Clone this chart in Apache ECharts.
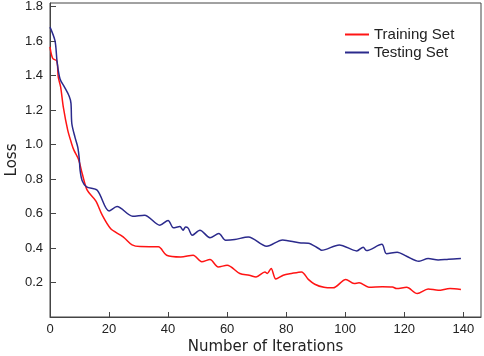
<!DOCTYPE html>
<html>
<head>
<meta charset="utf-8">
<script src="https://cdn.jsdelivr.net/npm/echarts@6/dist/echarts.min.js"></script>
<style>
  html, body { margin: 0; padding: 0; background: #fff; }
  #chart { width: 484px; height: 356px; }
</style>
</head>
<body>
<div id="chart"></div>
<script>
// training set loss
var trainIter = [0, 0.9, 2.3, 2.8, 3.6, 4.5, 6, 7.3, 8.1, 9.7, 10.9, 12.6, 15.5, 17.7, 20.5, 23.9, 25.4, 27.8, 30.5, 36.7,
  39.5, 44.3, 48.5, 51.4, 54.2, 57, 60, 64.3, 67.5, 69.8, 72.8, 73.6, 74.9, 76.5, 79, 81.8, 85.2, 87.5, 89.7, 92.8,
  95.9, 100.2, 103, 104.7, 108, 112.6, 116, 117.4, 120.8, 124.4, 128.1, 131.5, 135.5, 139.2];
var trainLoss = [1.566, 1.50, 1.483, 1.39, 1.334, 1.218, 1.083, 1.006, 0.967, 0.912, 0.832, 0.735, 0.673, 0.59, 0.513, 0.474, 0.455, 0.418, 0.408, 0.407,
  0.358, 0.348, 0.358, 0.32, 0.333, 0.29, 0.30, 0.252, 0.242, 0.232, 0.261, 0.252, 0.281, 0.22, 0.242, 0.252, 0.261, 0.218, 0.19, 0.172,
  0.169, 0.217, 0.194, 0.198, 0.173, 0.176, 0.174, 0.165, 0.172, 0.136, 0.163, 0.155, 0.165, 0.16];

// testing set loss
var testIter = [0, 1.7, 2.4, 3.4, 5, 6.5, 7.1, 7.4, 8.5, 9.4, 9.9, 10.2, 10.9, 12.4, 16, 20, 22.7, 28, 32, 37.2,
  40, 41.8, 44, 45.1, 45.9, 46.8, 48.2, 50.8, 54.2, 57.2, 59.5, 62.6, 67.2, 73.4, 78.8, 84.4, 87.5, 91, 92, 98,
  103.9, 106.1, 107.2, 112.4, 114, 117.6, 120.8, 125, 128.1, 131.5, 135, 139.2];
var testLoss = [1.68, 1.60, 1.48, 1.38, 1.33, 1.28, 1.24, 1.12, 1.04, 0.985, 0.92, 0.85, 0.79, 0.754, 0.735, 0.615, 0.64, 0.584, 0.59, 0.532,
  0.56, 0.517, 0.524, 0.503, 0.522, 0.515, 0.474, 0.503, 0.46, 0.484, 0.445, 0.449, 0.464, 0.41, 0.447, 0.43, 0.428, 0.397, 0.387, 0.418,
  0.383, 0.405, 0.385, 0.421, 0.367, 0.376, 0.352, 0.323, 0.339, 0.33, 0.335, 0.339];

var xTicks = [0, 20, 40, 60, 80, 100, 120, 140];
var yTicks = [0.2, 0.4, 0.6, 0.8, 1.0, 1.2, 1.4, 1.6, 1.8];
var seriesNames = ["Training Set", "Testing Set"];

function pairs(xs, ys) {
  return xs.map(function (x, i) { return [x, ys[i]]; });
}

var myChart = echarts.init(document.getElementById("chart"));
var option = {
  animation: false,
  textStyle: { fontFamily: "Liberation Sans, Arial, sans-serif" },
  grid: {
    left: 50, right: 3, top: 3, bottom: 39,
    outerBoundsMode: "none",
    show: true,
    borderColor: "#444",
    borderWidth: 1
  },
  legend: {
    orient: "vertical",
    left: 340,
    top: 22,
    icon: "rect",
    itemWidth: 24,
    itemHeight: 2,
    itemGap: 3,
    itemTextGap: 10,
    textStyle: { fontSize: 15, color: "#222" },
    data: seriesNames
  },
  xAxis: {
    type: "value",
    min: 0,
    max: 146,
    name: "Number of Iterations",
    nameLocation: "middle",
    nameGap: 23,
    nameMoveOverlap: false,
    nameTextStyle: { fontSize: 15, color: "#222", fontFamily: "DejaVu Sans" },
    splitLine: { show: false },
    axisLine: { lineStyle: { color: "#444" } },
    axisTick: { inside: true, length: 5, customValues: xTicks, lineStyle: { color: "#444" } },
    axisLabel: { customValues: xTicks, fontSize: 13, color: "#222", margin: 6 }
  },
  yAxis: {
    type: "value",
    min: 0,
    max: 1.82,
    name: "Loss",
    nameLocation: "middle",
    nameGap: 30,
    nameMoveOverlap: false,
    nameTextStyle: { fontSize: 15, color: "#222", fontFamily: "DejaVu Sans" },
    splitLine: { show: false },
    axisLine: { show: true, lineStyle: { color: "#444" } },
    axisTick: { show: true, inside: true, length: 6, customValues: yTicks, lineStyle: { color: "#444" } },
    axisLabel: {
      customValues: yTicks, fontSize: 13, color: "#222", margin: 7,
      formatter: function (v) { return v.toFixed(1); }
    }
  },
  series: [
    {
      name: seriesNames[0],
      type: "line",
      data: pairs(trainIter, trainLoss),
      smooth: 0.3,
      showSymbol: false,
      lineStyle: { color: "#ff1414", width: 1.5 },
      itemStyle: { color: "#ff1414" }
    },
    {
      name: seriesNames[1],
      type: "line",
      data: pairs(testIter, testLoss),
      smooth: 0.3,
      showSymbol: false,
      lineStyle: { color: "#2b2a8c", width: 1.5 },
      itemStyle: { color: "#2b2a8c" }
    }
  ]
};
myChart.setOption(option);
</script>
</body>
</html>
